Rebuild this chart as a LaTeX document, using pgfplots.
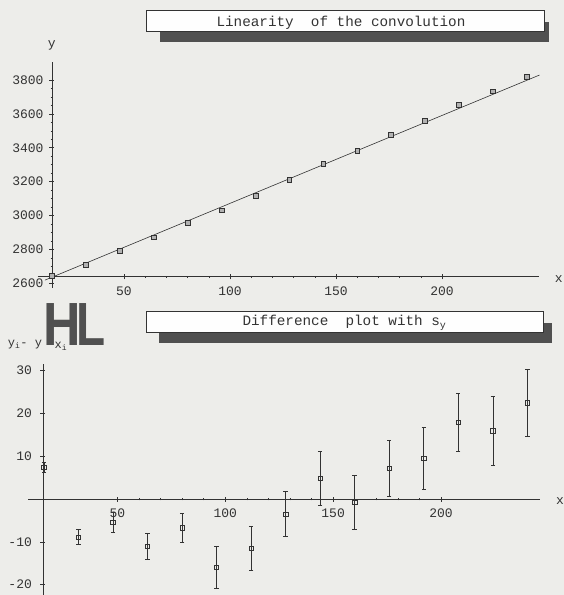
\documentclass[border=0pt]{standalone}
\usepackage{pgfplots}
\pgfplotsset{compat=1.18}
\usepackage{fontspec}
\setmainfont{Liberation Mono}
\newfontfamily\hlfont{Liberation Sans}
\definecolor{bg}{HTML}{EDEDEA}
\definecolor{ink}{HTML}{333333}
\definecolor{shadowc}{HTML}{505050}
\begin{document}
\begin{tikzpicture}
\useasboundingbox (0pt,0pt) rectangle (564pt,595pt);
\clip (0pt,0pt) rectangle (564pt,595pt);
\fill[bg] (0pt,0pt) rectangle (564pt,595pt);
% ---- title 1
\fill[shadowc] (160pt,552.7pt) rectangle (549.3pt,573.3pt);
\draw[ink, fill=white!97!bg, line width=0.6pt] (146pt,563.3pt) rectangle (544.3pt,585pt);
\node[anchor=base, inner sep=0pt, text=ink, font=\fontsize{14.3}{16}\selectfont] at (341pt,568.3pt) {Linearity~~of the convolution};
% ---- title 2
\fill[shadowc] (158.7pt,252.3pt) rectangle (552pt,272.3pt);
\draw[ink, fill=white!97!bg, line width=0.6pt] (146.1pt,262.3pt) rectangle (543.5pt,283.9pt);
\node[anchor=base, inner sep=0pt, text=ink, font=\fontsize{14.3}{16}\selectfont] at (344.5pt,269pt) {Difference~~plot with s\textsubscript{y}};
% ---- axis labels
\node[inner sep=0pt, text=ink, font=\fontsize{13}{13}\selectfont] at (51.7pt,550pt) {y};
\node[inner sep=0pt, text=ink, font=\fontsize{13}{13}\selectfont] at (558.7pt,316pt) {x};
\node[inner sep=0pt, text=ink, font=\fontsize{13}{13}\selectfont] at (560pt,94.3pt) {x};
% ---- garbled y-label of the difference plot
\node[inner sep=0pt, text=shadowc, font=\hlfont\bfseries\fontsize{61}{61}\selectfont, xscale=0.85] at (62.5pt,270.3pt) {H};
\node[inner sep=0pt, text=shadowc, font=\hlfont\bfseries\fontsize{61}{61}\selectfont, xscale=0.78] at (90.8pt,270.3pt) {L};
\node[inner sep=0pt, text=ink, font=\fontsize{12}{12}\selectfont] at (25pt,250pt) {y\textsubscript{i}- y};
\node[inner sep=1pt, fill=bg, text=ink, font=\fontsize{12}{12}\selectfont] at (61pt,249pt) {x\textsubscript{i}};
% ---- top axis
\begin{axis}[
  at={(37.7pt,307pt)}, anchor=south west,
  x=2.12pt, y=0.1694pt,
  xmin=9.3, xmax=245.6, ymin=2572, ymax=3908,
  enlargelimits=false, clip=false,
  axis lines=left,
  axis line style={-, draw=ink, line width=0.6pt},
  axis x line shift=-11.2pt,
  axis y line shift=-14.2pt,
  xtick={50,100,150,200}, ytick={2600,2800,...,3800},
  minor x tick num=4, minor y tick num=3,
  tick align=center,
  major tick length=5pt, minor tick length=2.5pt,
  tick style={draw=ink, line width=0.5pt},
  /pgf/number format/assume math mode=true,
  /pgf/number format/1000 sep={},
  ticklabel style={font=\fontsize{13}{13}\selectfont, text=ink},
  xticklabel style={yshift=-4.2pt},
  yticklabel style={xshift=-2.4pt},
]
\addplot[ink, line width=0.6pt] coordinates {(12.7,2618.4) (246,3829.2)};
\addplot[only marks, mark=square*, mark size=2.4pt,
  mark options={draw=ink, fill=gray!60, line width=0.5pt}] coordinates {
  (16,2643) (32,2708) (48,2793) (64,2872) (80,2959) (96,3031) (112,3118)
  (128,3212) (144,3305) (160,3381) (176,3476) (192,3560) (208,3653)
  (224,3734) (240,3821)};
\end{axis}
% ---- bottom axis
\begin{axis}[
  at={(28.4pt,0.1pt)}, anchor=south west,
  x=2.158pt, y=4.28pt,
  xmin=8.8, xmax=246, ymin=-22.4, ymax=31.5,
  enlargelimits=false, clip=false,
  axis x line=middle, axis y line=left,
  axis line style={-, draw=ink, line width=0.6pt},
  axis y line shift=-14.5pt,
  xtick={50,100,150,200}, ytick={-20,-10,10,20,30},
  yticklabels={-20,-10,10,20,30},
  minor x tick num=4, minor y tick num=4,
  tick align=center,
  major tick length=5pt, minor tick length=2.5pt,
  tick style={draw=ink, line width=0.5pt},
  /pgf/number format/assume math mode=true,
  ticklabel style={font=\fontsize{13}{13}\selectfont, text=ink},
  xticklabel style={yshift=-4.2pt},
  yticklabel style={xshift=-5pt},
]
\addplot[only marks, mark=square, mark size=2.2pt,
  mark options={draw=ink, line width=0.6pt},
  error bars/.cd, y dir=both, y explicit,
  error bar style={draw=ink, line width=0.6pt},
  error mark=-,
  error mark options={rotate=90, draw=ink, mark size=2.2pt, line width=0.6pt}]
  coordinates {
  (16,7.4) +- (0,1.2)
  (32,-8.9) +- (0,1.75)
  (48,-5.4) +- (0,2.4)
  (64,-11.1) +- (0,3.0)
  (80,-6.7) +- (0,3.4)
  (96,-15.9) +- (0,4.95)
  (112,-11.5) +- (0,5.05)
  (128,-3.5) +- (0,5.25)
  (144,4.9) +- (0,6.25)
  (160,-0.8) +- (0,6.35)
  (176,7.2) +- (0,6.5)
  (192,9.5) +- (0,7.15)
  (208,17.9) +- (0,6.7)
  (224,15.9) +- (0,8.05)
  (240,22.5) +- (0,7.75)};
\end{axis}
\end{tikzpicture}
\end{document}
